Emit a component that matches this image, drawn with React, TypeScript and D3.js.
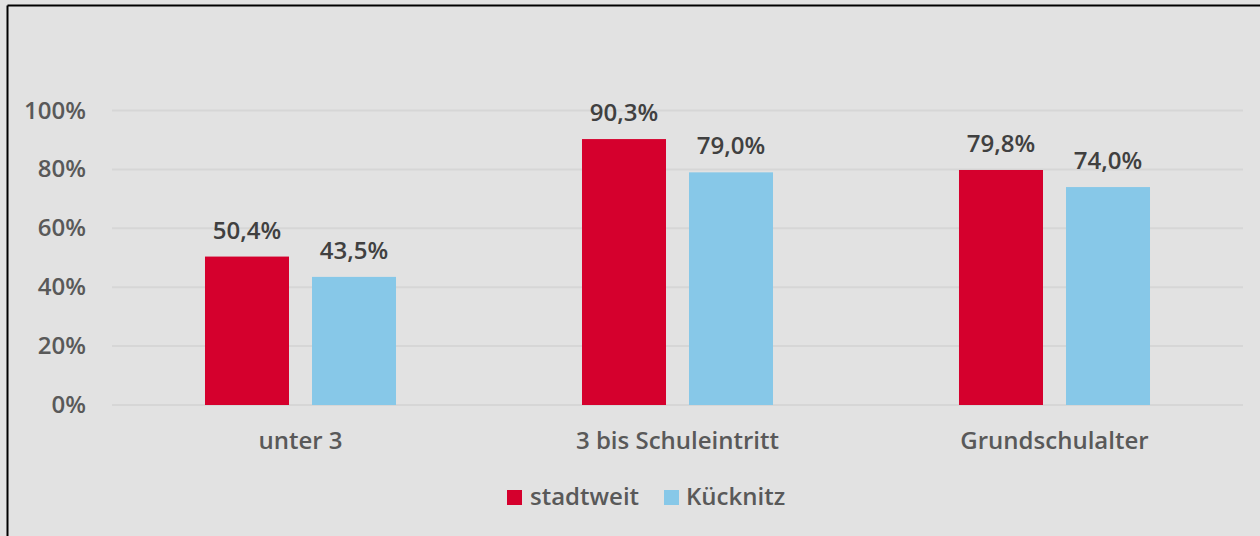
import React from "react";
import * as d3 from "d3";

const categories = ["unter 3", "3 bis Schuleintritt", "Grundschulalter"];
const seriesNames = ["stadtweit", "Kücknitz"];
const stadtweit = [50.4, 90.3, 79.8];
const kuecknitz = [43.5, 79.0, 74.0];
const yTicks = [0, 20, 40, 60, 80, 100];
const colors = ["#d5002d", "#87c8e8"];

const W = 1260;
const H = 536;
const FONT = "'Open Sans', 'Noto Sans', sans-serif";

export default function App() {
  const values = [stadtweit, kuecknitz];
  const x = d3.scaleBand<string>().domain(categories).range([112, 1243]).padding(0);
  const xs = d3
    .scaleBand<string>()
    .domain(seriesNames)
    .range([0, x.bandwidth()])
    .paddingInner(0.215)
    .paddingOuter(0.869);
  const y = d3.scaleLinear().domain([0, 100]).range([405, 110.5]);
  const fmt = (v: number) => v.toFixed(1).replace(".", ",") + "%";

  const legendItems = [
    { name: seriesNames[0], sx: 507, tx: 530 },
    { name: seriesNames[1], sx: 664, tx: 686 },
  ];

  return (
    <svg
      width={W}
      height={H}
      style={{ position: "absolute", left: 0, top: 0, display: "block" }}
      fontFamily={FONT}
    >
      <rect x={0} y={0} width={W} height={H} fill="#e2e2e2" />
      <line x1={7.5} y1={5.5} x2={W} y2={5.5} stroke="#000" strokeWidth={2} />
      <line x1={7.5} y1={5.5} x2={7.5} y2={H} stroke="#000" strokeWidth={2} />

      {yTicks.map((t) => (
        <g key={t}>
          <line x1={112} x2={1243} y1={y(t)} y2={y(t)} stroke="#d6d6d6" strokeWidth={2} />
          <text
            x={86}
            y={y(t) + 8}
            textAnchor="end"
            fontSize={24}
            fontWeight={600}
            fill="#595959"
          >
            {t}%
          </text>
        </g>
      ))}

      {categories.map((c, i) => (
        <g key={c} transform={`translate(${x(c)},0)`}>
          {seriesNames.map((s, j) => {
            const v = values[j][i];
            const bx = xs(s)!;
            return (
              <g key={s}>
                <rect
                  x={bx}
                  y={y(v)}
                  width={xs.bandwidth()}
                  height={y(0) - y(v)}
                  fill={colors[j]}
                />
                <text
                  x={bx + xs.bandwidth() / 2}
                  y={y(v) - 18}
                  textAnchor="middle"
                  fontSize={24}
                  fontWeight={600}
                  fill="#404040"
                >
                  {fmt(v)}
                </text>
              </g>
            );
          })}
          <text
            x={x.bandwidth() / 2}
            y={449}
            textAnchor="middle"
            fontSize={24}
            fontWeight={600}
            fill="#595959"
          >
            {c}
          </text>
        </g>
      ))}

      {legendItems.map((it, j) => (
        <g key={it.name}>
          <rect x={it.sx} y={490} width={15} height={15} fill={colors[j]} />
          <text x={it.tx} y={505} fontSize={24} fontWeight={600} fill="#595959">
            {it.name}
          </text>
        </g>
      ))}
    </svg>
  );
}
